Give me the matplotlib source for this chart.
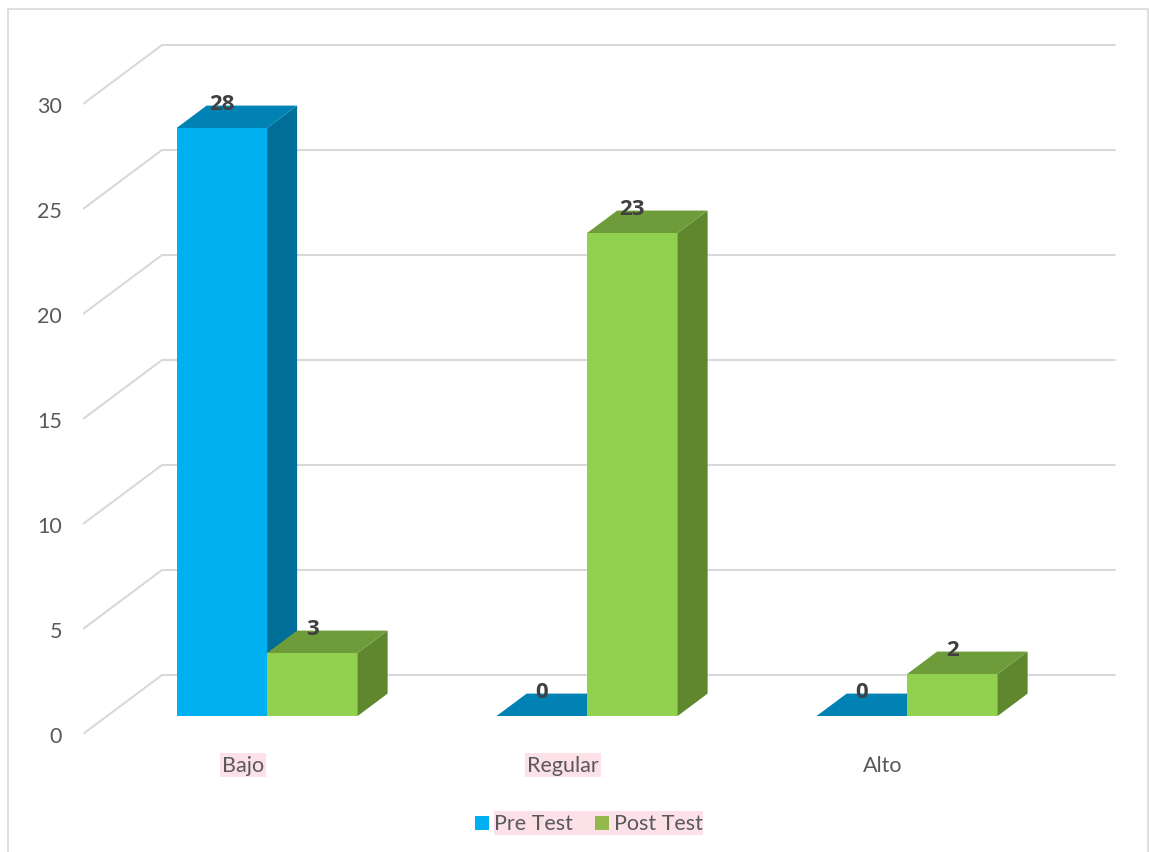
import matplotlib
matplotlib.use("Agg")
import matplotlib.pyplot as plt
from matplotlib.patches import Polygon, Rectangle
from matplotlib.lines import Line2D

# ---- data ----
categories = ["Bajo", "Regular", "Alto"]
series_names = ["Pre Test", "Post Test"]
pre_test = [28, 0, 0]
post_test = [3, 23, 2]
y_ticks = [0, 5, 10, 15, 20, 25, 30]

# ---- style ----
face_colors = {
    "Pre Test": ("#00B0F0", "#0082B4", "#006E96"),   # front, top, side
    "Post Test": ("#92D050", "#6E9C3A", "#5E872E"),
}
legend_colors = {"Pre Test": "#00B0F0", "Post Test": "#94B84C"}
grid_color = "#D9D9D9"
text_color = "#595959"
label_color = "#404040"
highlight = "#FDE1E8"
font = "Lato"
bold_font = "Open Sans"

W, H = 1149, 853
fig = plt.figure(figsize=(W / 100, H / 100), dpi=100)
fig.patch.set_facecolor("white")

def fx(px):
    return px / W

def fy(py):
    return 1 - py / H

# axes spans from the front-left wall edge to the right, baseline at the bottom
ax_left, ax_bottom = 83, 735
ax = fig.add_axes([fx(ax_left), fy(ax_bottom), 1 - fx(ax_left), ax_bottom / H])
px_per_cat = 320.0
px_per_val = 21.0
ax.set_xlim(-0.5, -0.5 + (W - ax_left) / px_per_cat)
ax.set_ylim(0, ax_bottom / px_per_val)
for s in ax.spines.values():
    s.set_visible(False)
ax.set_facecolor("none")

# oblique depth projection (category units, value units)
DX, DY = 79 / px_per_cat, 59 / px_per_val
Z_FRONT = 0.305   # bar front plane depth fraction
Z_DEPTH = 0.38    # bar thickness depth fraction
BAR_W = 90.5 / px_per_cat
WALL_LEFT, WALL_RIGHT = -0.5, 2.48

# back wall and side wall gridlines
for v in y_ticks:
    ax.add_line(Line2D([WALL_LEFT, WALL_LEFT + DX, WALL_RIGHT + DX],
                       [v, v + DY, v + DY],
                       color=grid_color, lw=1.5, zorder=1,
                       solid_capstyle="butt"))

# y axis labels on the front plane
ax.set_yticks(y_ticks)
ax.set_yticklabels([str(t) for t in y_ticks])
ax.tick_params(axis="y", length=0, pad=15, labelsize=15.5, labelcolor=text_color)
for lab in ax.get_yticklabels():
    lab.set_fontfamily(font)
ax.set_xticks([])

sx, sy = Z_FRONT * DX, Z_FRONT * DY
dx, dy = Z_DEPTH * DX, Z_DEPTH * DY

def draw_bar(x0, x1, v, colors, z):
    front, top, side = colors
    bx0, bx1 = x0 + sx, x1 + sx
    b, t = sy, v + sy
    if v > 0:
        ax.add_patch(Polygon([(bx0, b), (bx1, b), (bx1, t), (bx0, t)],
                             closed=True, fc=front, ec="none", zorder=z))
        ax.add_patch(Polygon([(bx1, b), (bx1 + dx, b + dy), (bx1 + dx, t + dy), (bx1, t)],
                             closed=True, fc=side, ec="none", zorder=z))
    ax.add_patch(Polygon([(bx0, t), (bx1, t), (bx1 + dx, t + dy), (bx0 + dx, t + dy)],
                         closed=True, fc=top, ec="none", zorder=z))

values = {"Pre Test": pre_test, "Post Test": post_test}
z = 3
for i, cat in enumerate(categories):
    for s, name in enumerate(series_names):
        v = values[name][i]
        x0 = i + (s - 1) * BAR_W
        draw_bar(x0, x0 + BAR_W, v, face_colors[name], z)
        z += 1
        ax.text(x0 + BAR_W / 2 + sx, v + sy + dy + 0.12, f"{v}",
                ha="center", va="center", fontsize=16, fontweight="bold",
                color=label_color, family=bold_font, zorder=20, clip_on=False)

# category labels
for i, cat in enumerate(categories):
    kw = {}
    if cat in ("Bajo", "Regular"):
        kw["bbox"] = dict(boxstyle="square,pad=0.08", fc=highlight, ec="none")
    ax.text(i, -1.48, cat, ha="center", va="center", fontsize=15.5,
            color=text_color, family=font, clip_on=False, **kw)

# legend
fig.add_artist(Rectangle((fx(494), fy(836)), fx(703) - fx(494), fy(812) - fy(836),
                         transform=fig.transFigure, fc=highlight, ec="none"))
for name, mx, tx in (("Pre Test", 475, 494), ("Post Test", 595, 614)):
    fig.add_artist(Rectangle((fx(mx), fy(831)), fx(14), 14 / H,
                             transform=fig.transFigure,
                             fc=legend_colors[name], ec="none"))
    fig.text(fx(tx), fy(824), name, ha="left", va="center", fontsize=15.5,
             color=text_color, family=font)

# chart border
fig.add_artist(Line2D([fx(8), fx(8), fx(1148), fx(1148)],
                      [fy(860), fy(10), fy(10), fy(860)],
                      transform=fig.transFigure, color=grid_color, lw=1.2))

fig.savefig("out.png", dpi=100)
